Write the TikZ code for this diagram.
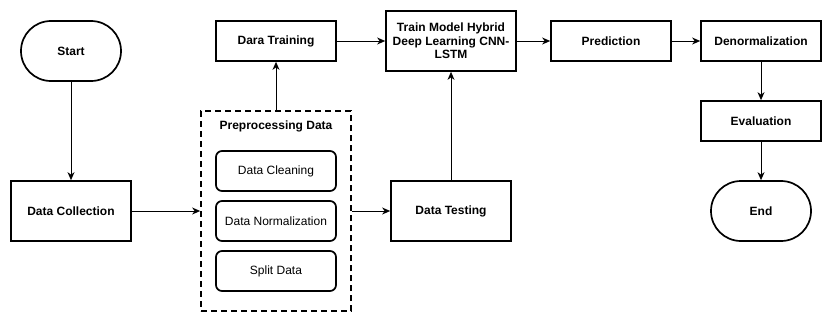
\documentclass[tikz,border=0pt]{standalone}
\usepackage{fontspec}
\setmainfont{Liberation Sans}
\usetikzlibrary{arrows.meta}
\begin{document}
\begin{tikzpicture}[x=1pt,y=-1pt,
  box/.style={draw,line width=1.7pt,inner sep=0pt,align=center,font=\fontsize{12}{13.5}\selectfont\bfseries},
  sub/.style={draw,line width=1.7pt,rounded corners=6pt,inner sep=0pt,minimum width=120pt,minimum height=40pt,font=\fontsize{12}{13.5}\selectfont},
  term/.style={draw,line width=1.7pt,rounded corners=29.9pt,inner sep=0pt,minimum width=100pt,minimum height=60pt,font=\fontsize{12}{13.5}\selectfont\bfseries},
  arr/.style={line width=0.9pt,-{Stealth[length=8pt,width=7pt,inset=2.5pt]}}]
\useasboundingbox (0,0) rectangle (832,322);
\node[term] (start) at (71,51) {Start};
\node[box,minimum width=120pt,minimum height=60pt] (collect) at (71,211) {Data Collection};
\node[draw,line width=1.7pt,dash pattern=on 6pt off 4pt,minimum width=150pt,minimum height=200pt,inner sep=0pt] (pre) at (276,211) {};
\node[font=\fontsize{12}{13.5}\selectfont\bfseries] (pretitle) at (276,126) {Preprocessing Data};
\node[sub] (clean) at (276,171) {Data Cleaning};
\node[sub] (norm) at (276,221) {Data Normalization};
\node[sub] (split) at (276,271) {Split Data};
\node[box,minimum width=120pt,minimum height=40pt] (train) at (276,41) {Dara Training};
\node[box,minimum width=130pt,minimum height=60pt] (model) at (451,41) {Train Model Hybrid\\Deep Learning CNN-\\LSTM};
\node[box,minimum width=120pt,minimum height=60pt] (test) at (451,211) {Data Testing};
\node[box,minimum width=120pt,minimum height=40pt] (pred) at (611,41) {Prediction};
\node[box,minimum width=120pt,minimum height=40pt] (denorm) at (761,41) {Denormalization};
\node[box,minimum width=120pt,minimum height=40pt] (eval) at (761,121) {Evaluation};
\node[term] (end) at (761,211) {End};
\draw[arr] (start) -- (collect);
\draw[arr] (collect) -- (pre);
\draw[arr] (pre) -- (train);
\draw[arr] (train.east) -- (train.east -| model.west);
\draw[arr] (pre.east |- test) -- (test);
\draw[arr] (test) -- (model);
\draw[arr] (model.east |- pred) -- (pred);
\draw[arr] (pred) -- (denorm);
\draw[arr] (denorm) -- (eval);
\draw[arr] (eval) -- (end);
\end{tikzpicture}
\end{document}
